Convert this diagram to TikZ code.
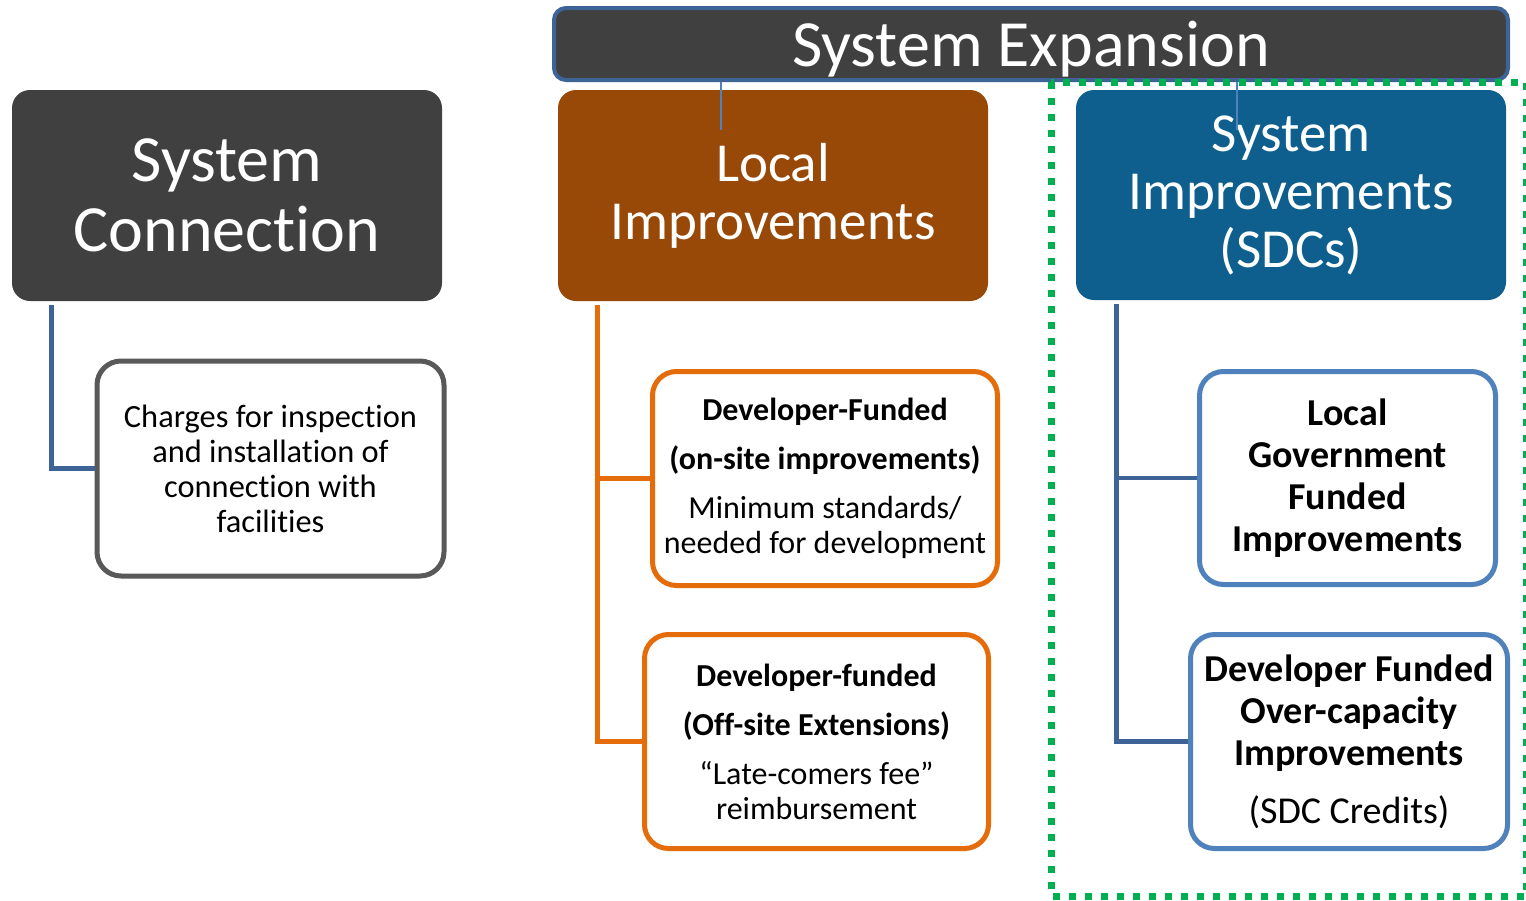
\documentclass[tikz,border=0pt]{standalone}
\usepackage{fontspec}
\setmainfont[Ligatures=NoCommon]{Carlito}
\definecolor{darkgray}{HTML}{404040}
\definecolor{brownbox}{HTML}{984807}
\definecolor{bluebox}{HTML}{0E5F8D}
\definecolor{orangeline}{HTML}{E46C0A}
\definecolor{lightblue}{HTML}{4F81BD}
\definecolor{darkblue}{HTML}{3E6497}
\definecolor{grayborder}{HTML}{595959}
\definecolor{greendot}{HTML}{00B050}
\begin{document}
\begin{tikzpicture}[x=0.5pt,y=-0.5pt,
  titlebox/.style={rectangle, rounded corners=9pt, text=white, align=center, inner sep=0pt},
  leafbox/.style={rectangle, rounded corners=12pt, fill=white, line width=2.5pt, align=center, inner sep=0pt},
  conn/.style={line width=2.2pt},
  thinconn/.style={line width=0.8pt, draw=lightblue}]
\useasboundingbox[fill=white] (0,0) rectangle (1526,900);

% top-level boxes
\node[titlebox, fill=darkgray, minimum width=215pt, minimum height=105.5pt,
  font=\fontsize{33}{35}\selectfont] (sc) at (227,195.5) {System\\Connection};
\node[titlebox, fill=brownbox, minimum width=215pt, minimum height=105.5pt,
  font=\fontsize{27.5}{29}\selectfont] (li) at (773,195.5) {Local\\Improvements};
\node[titlebox, fill=bluebox, minimum width=215pt, minimum height=105pt,
  font=\fontsize{27.5}{29}\selectfont] (si) at (1291,195) {System\\Improvements\\(SDCs)};
\node[titlebox, rounded corners=6pt, fill=darkgray, draw=darkblue, line width=2pt,
  minimum width=477pt, minimum height=36pt, text depth=0pt,
  font=\fontsize{33}{35}\selectfont] (se) at (1031,44) {System Expansion};

% leaf boxes
\node[leafbox, draw=grayborder, minimum width=173.5pt, minimum height=107.5pt,
  font=\fontsize{16.2}{17.5}\selectfont] (ch) at (270.5,468.5)
  {Charges for inspection\\and installation of\\connection with\\facilities};
\node[leafbox, draw=orangeline, minimum width=172.5pt, minimum height=107pt,
  font=\fontsize{16}{17.5}\selectfont] (d1) at (825,478.5)
  {\textbf{Developer-Funded}\\[7pt]\textbf{(on-site improvements)}\\[7pt]Minimum standards/\\needed for development};
\node[leafbox, draw=orangeline, minimum width=172pt, minimum height=107pt,
  font=\fontsize{16}{17.5}\selectfont] (d2) at (816.5,741.5)
  {\textbf{Developer-funded}\\[7pt]\textbf{(Off-site Extensions)}\\[7pt]``Late-comers fee''\\reimbursement};
\node[leafbox, draw=lightblue, minimum width=148pt, minimum height=106.5pt,
  font=\bfseries\fontsize{19}{21}\selectfont] (lg) at (1347.5,478)
  {Local\\Government\\Funded\\Improvements};
\node[leafbox, draw=lightblue, minimum width=158.5pt, minimum height=107pt,
  font=\fontsize{19}{21}\selectfont] (df) at (1349,741.5)
  {\textbf{Developer Funded}\\\textbf{Over-capacity}\\\textbf{Improvements}\\[8pt](SDC Credits)};

% connectors
\draw[conn, draw=darkblue] ([xshift=20pt,yshift=-2pt]sc.south west) |- (ch.west);
\draw[conn, draw=orangeline] ([xshift=20pt,yshift=-2pt]li.south west) |- (d1.west);
\draw[conn, draw=orangeline] ([xshift=20pt,yshift=-2pt]li.south west) |- (d2.west);
\draw[conn, draw=darkblue] ([xshift=20.5pt,yshift=-2pt]si.south west) |- (lg.west);
\draw[conn, draw=darkblue] ([xshift=20.5pt,yshift=-2pt]si.south west) |- (df.west);

% thin connectors from System Expansion
\coordinate (e1) at (721,130);
\coordinate (e2) at (1237,130);
\draw[thinconn] ([xshift=84.5pt]se.south west) -- (e1);
\draw[thinconn] ([xshift=342.5pt]se.south west) -- (e2);

% green dotted frame
\draw[draw=greendot, line width=3.5pt, dash pattern=on 3.5pt off 4.5pt] (1051,82) rectangle (1526.5,896);
\end{tikzpicture}
\end{document}
